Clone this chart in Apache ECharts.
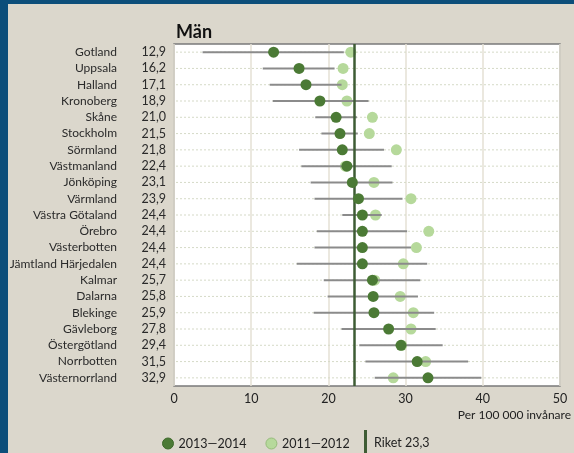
<!DOCTYPE html>
<html>
<head>
<meta charset="utf-8">
<script src="https://cdn.jsdelivr.net/npm/echarts@6/dist/echarts.min.js"></script>
<style>
  html, body { margin: 0; padding: 0; }
  body { width: 574px; height: 453px; background: #0c4e7a; position: relative; overflow: hidden; }
  #panel { position: absolute; left: 8px; top: 4px; width: 566px; height: 449px; background: #dbd7cc; }
  #chart { position: absolute; left: 0; top: 0; width: 574px; height: 453px; }
</style>
</head>
<body>
<div id="panel"></div>
<div id="chart"></div>
<script>
// Län, sorted by the 2013–2014 rate (per 100 000 inhabitants, men)
const regions = ['Gotland', 'Uppsala', 'Halland', 'Kronoberg', 'Skåne', 'Stockholm', 'Sörmland',
  'Västmanland', 'Jönköping', 'Värmland', 'Västra Götaland', 'Örebro', 'Västerbotten',
  'Jämtland Härjedalen', 'Kalmar', 'Dalarna', 'Blekinge', 'Gävleborg', 'Östergötland',
  'Norrbotten', 'Västernorrland'];
const rate2013_2014 = [12.9, 16.2, 17.1, 18.9, 21.0, 21.5, 21.8, 22.4, 23.1, 23.9, 24.4, 24.4, 24.4,
  24.4, 25.7, 25.8, 25.9, 27.8, 29.4, 31.5, 32.9];
const rate2011_2012 = [22.9, 21.9, 21.8, 22.4, 25.7, 25.3, 28.8, 22.2, 25.9, 30.7, 26.1, 33.0, 31.4,
  29.7, 26.0, 29.3, 31.0, 30.7, 29.5, 32.6, 28.4];
// Confidence interval of the 2013–2014 rate
const ciLow = [3.7, 11.5, 12.4, 12.8, 18.3, 19.1, 16.2, 16.5, 17.7, 18.2, 21.8, 18.5, 18.2,
  15.9, 19.4, 19.9, 18.1, 21.7, 24.0, 24.8, 26.0];
const ciHigh = [22.0, 20.8, 21.7, 25.2, 23.7, 23.8, 27.2, 28.2, 28.3, 29.6, 26.9, 30.2, 30.7,
  32.8, 31.9, 31.6, 33.7, 33.9, 34.8, 38.1, 39.8];
const nationalRate = 23.3;
const xTicks = [0, 10, 20, 30, 40, 50];
const periodNew = '2013—2014';
const periodOld = '2011—2012';

const fmt = v => v.toFixed(1).replace('.', ',');
const FONT = 'Lato, "DejaVu Sans", sans-serif';
const DARK = '#4b7a35';
const LIGHT = '#b6d99b';
const RIKET = '#3e5c34';

const chart = echarts.init(document.getElementById('chart'), null, { renderer: 'canvas' });

const rowIdx = regions.map((_, i) => i);

chart.setOption({
  animation: false,
  textStyle: { fontFamily: FONT },
  title: [
    { text: 'Män', left: 171, top: 18,
      textStyle: { fontFamily: FONT, fontSize: 18, fontWeight: 'bold', color: '#111' } },
    { text: 'Per 100 000 invånare', right: -2, top: 404,
      textStyle: { fontFamily: FONT, fontSize: 12, fontWeight: 'normal', color: '#222' } }
  ],
  grid: {
    left: 174, right: 14, top: 44, bottom: 67,
    show: true, backgroundColor: '#ffffff', borderColor: '#7a7a7a', borderWidth: 1.5
  },
  legend: [
    {
      left: 157, top: 432, itemWidth: 11, itemHeight: 11, itemGap: 19,
      textStyle: { fontFamily: FONT, fontSize: 12.5, color: '#222' },
      data: [
        { name: periodNew, icon: 'circle', itemStyle: { color: DARK, borderColor: '#3e6a2b', borderWidth: 1 } },
        { name: periodOld, icon: 'circle', itemStyle: { color: LIGHT, borderColor: '#95bb7a', borderWidth: 1 } }
      ]
    },
    {
      left: 359, top: 425, itemWidth: 3, itemHeight: 25,
      textStyle: { fontFamily: FONT, fontSize: 12.5, color: '#222', padding: [0, 0, 0, 2] },
      data: [{ name: 'Riket ' + fmt(nationalRate), icon: 'rect' }]
    }
  ],
  xAxis: {
    type: 'value', min: xTicks[0], max: xTicks[xTicks.length - 1], interval: 10,
    axisLine: { show: false }, axisTick: { show: false },
    axisLabel: { fontFamily: FONT, fontSize: 12.5, color: '#222', margin: 6 },
    splitLine: { show: true, lineStyle: { color: '#e4e0d5', width: 1.5 } }
  },
  yAxis: [
    {
      type: 'category', data: regions, inverse: true, position: 'left',
      axisLine: { show: false }, axisTick: { show: false }, splitLine: { show: false },
      axisLabel: { interval: 0, fontFamily: FONT, fontSize: 12, color: '#2a2a2a', margin: 57 }
    },
    {
      type: 'category', data: rate2013_2014.map(fmt), inverse: true, position: 'left',
      axisLine: { show: false }, axisTick: { show: false }, splitLine: { show: false },
      axisLabel: { interval: 0, fontFamily: FONT, fontSize: 12.5, color: '#2a2a2a', margin: 8 }
    }
  ],
  series: [
    {
      // dotted row guides across the plot
      type: 'custom', name: 'rows', silent: true, z: 1,
      data: rowIdx.map(i => [xTicks[0], xTicks[xTicks.length - 1], i]),
      encode: { x: [0, 1], y: 2 },
      renderItem: (params, api) => {
        const a = api.coord([api.value(0), api.value(2)]);
        const b = api.coord([api.value(1), api.value(2)]);
        return {
          type: 'line', shape: { x1: a[0] + 2, y1: a[1], x2: b[0] - 2, y2: b[1] },
          style: { stroke: '#d6dac8', lineWidth: 1, lineDash: [2, 2] }
        };
      }
    },
    {
      name: periodOld, type: 'scatter', z: 3,
      symbol: 'circle', symbolSize: 11,
      itemStyle: { color: LIGHT, opacity: 1 },
      data: rate2011_2012.map((v, i) => [v, i])
    },
    {
      // confidence interval bars
      type: 'custom', name: 'ci', silent: true, z: 4,
      data: rowIdx.map(i => [ciLow[i], ciHigh[i], i]),
      encode: { x: [0, 1], y: 2 },
      renderItem: (params, api) => {
        const a = api.coord([api.value(0), api.value(2)]);
        const b = api.coord([api.value(1), api.value(2)]);
        return {
          type: 'line', shape: { x1: a[0], y1: a[1], x2: b[0], y2: b[1] },
          style: { stroke: '#8b8b8b', lineWidth: 2 }
        };
      }
    },
    {
      name: 'Riket ' + fmt(nationalRate), type: 'line', z: 5,
      data: [], color: RIKET, itemStyle: { color: RIKET },
      markLine: {
        silent: true, symbol: 'none', label: { show: false },
        lineStyle: { color: RIKET, width: 2.5, type: 'solid' },
        data: [{ xAxis: nationalRate }]
      }
    },
    {
      name: periodNew, type: 'scatter', z: 6,
      symbol: 'circle', symbolSize: 11,
      itemStyle: { color: DARK, opacity: 1 },
      data: rate2013_2014.map((v, i) => [v, i])
    }
  ]
});
</script>
</body>
</html>
